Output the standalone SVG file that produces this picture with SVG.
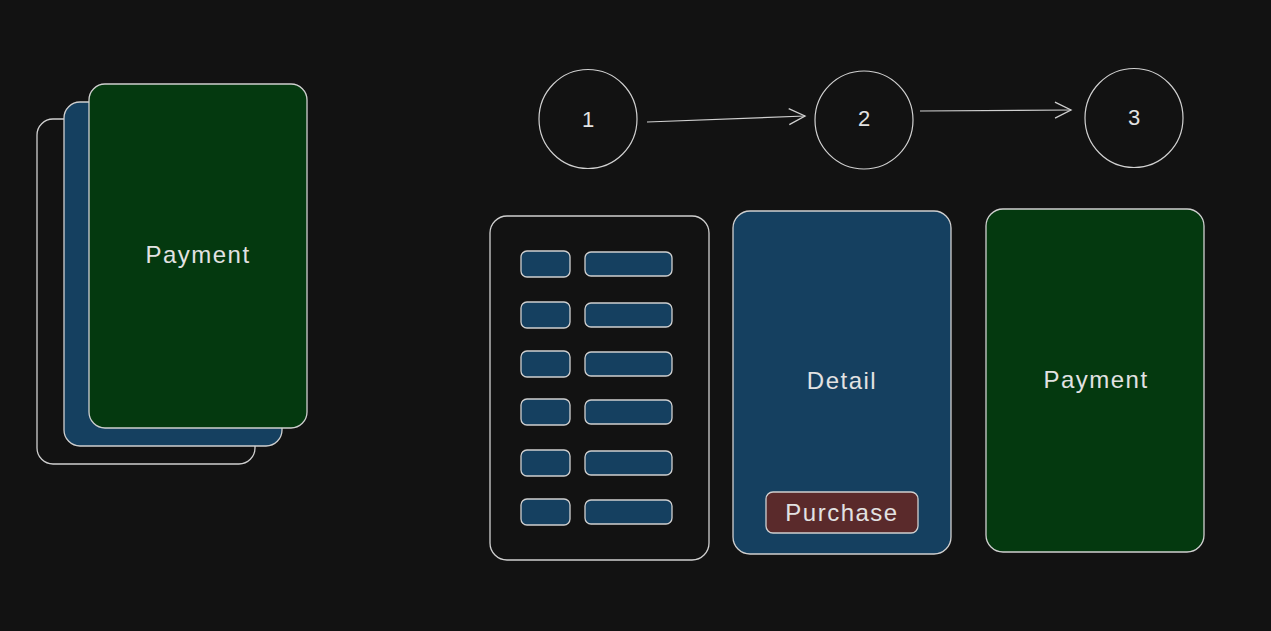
<svg xmlns="http://www.w3.org/2000/svg" width="1271" height="631" viewBox="0 0 1271 631">
<style>
.s{stroke:#d0d0d0;stroke-width:1.3;}
.none{fill:none;}
.blue{fill:#154060;}
.green{fill:#04390f;}
.red{fill:#5a2a2b;}
.t{font-family:"Liberation Sans",Arial,sans-serif;fill:#e2e2e2;text-anchor:middle;dominant-baseline:central;font-size:24px;letter-spacing:1.5px;}
.n{font-family:"Liberation Sans",Arial,sans-serif;fill:#e2e2e2;text-anchor:middle;dominant-baseline:central;font-size:22px;}
.c{fill:none;stroke:#d0d0d0;stroke-width:1.2;}
</style>
<defs>
<marker id="ah" viewBox="0 0 20 20" refX="18" refY="10" markerWidth="20" markerHeight="20" markerUnits="userSpaceOnUse" orient="auto">
<path d="M2,2 L18,10 L2,18" fill="none" stroke="#d0d0d0" stroke-width="1.3"/>
</marker>
</defs>
<rect width="1271" height="631" fill="#121212"/>
<g id="stack">
<rect class="s none" x="37" y="119" width="218" height="345" rx="16"/>
<rect class="s blue" x="64" y="102" width="218" height="344" rx="16"/>
<rect class="s green" x="89" y="84" width="218" height="344" rx="16"/>
<text class="t" x="198" y="254">Payment</text>
</g>
<g id="step1">
<ellipse class="c" cx="588" cy="119" rx="49" ry="49.5"/>
<text class="n" x="588" y="119">1</text>
</g>
<g id="step2">
<ellipse class="c" cx="864" cy="120" rx="49" ry="49"/>
<text class="n" x="864" y="118">2</text>
</g>
<g id="step3">
<ellipse class="c" cx="1134" cy="118" rx="49" ry="49.5"/>
<text class="n" x="1134" y="117">3</text>
</g>
<g id="connectors">
<line class="c" x1="647" y1="122" x2="805" y2="116" marker-end="url(#ah)"/>
<line class="c" x1="920" y1="111" x2="1071" y2="110" marker-end="url(#ah)"/>
</g>
<g id="list">
<rect class="s none" x="490" y="216" width="219" height="344" rx="17"/>
<g class="s blue">
<rect x="521" y="251" width="49" height="26" rx="6"/>
<rect x="585" y="252" width="87" height="24" rx="6"/>
<rect x="521" y="302" width="49" height="26" rx="6"/>
<rect x="585" y="303" width="87" height="24" rx="6"/>
<rect x="521" y="351" width="49" height="26" rx="6"/>
<rect x="585" y="352" width="87" height="24" rx="6"/>
<rect x="521" y="399" width="49" height="26" rx="6"/>
<rect x="585" y="400" width="87" height="24" rx="6"/>
<rect x="521" y="450" width="49" height="26" rx="6"/>
<rect x="585" y="451" width="87" height="24" rx="6"/>
<rect x="521" y="499" width="49" height="26" rx="6"/>
<rect x="585" y="500" width="87" height="24" rx="6"/>
</g>
</g>
<g id="detail">
<rect class="s blue" x="733" y="211" width="218" height="343" rx="17"/>
<text class="t" x="842" y="380">Detail</text>
</g>
<g id="purchase">
<rect class="s red" x="766" y="492" width="152" height="41" rx="7"/>
<text class="t" x="842" y="512">Purchase</text>
</g>
<g id="payment">
<rect class="s green" x="986" y="209" width="218" height="343" rx="17"/>
<text class="t" x="1096" y="379">Payment</text>
</g>
</svg>
